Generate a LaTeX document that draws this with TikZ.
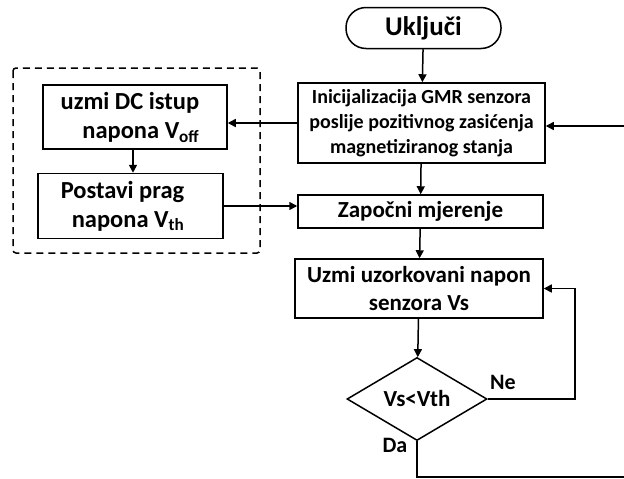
\documentclass[tikz,border=0pt]{standalone}
\usepackage{fontspec}
\setmainfont{Carlito}
\usetikzlibrary{arrows.meta,shapes.geometric}
\begin{document}
\begin{tikzpicture}[x=1pt,y=-1pt,
  line width=1.5pt,
  >={Triangle[length=8pt,width=8pt]},
  big/.style={font=\fontsize{23}{27.5}\selectfont\bfseries},
  box/.style={draw,rectangle,inner sep=0pt,align=center,big},
  txt/.style={inner sep=0pt,align=right,font=\fontsize{24.5}{29}\selectfont\bfseries},
  lbl/.style={font=\fontsize{22}{26}\selectfont\bfseries}]
\useasboundingbox (0,0) rectangle (624,479);
\node[box,rounded corners=20pt,minimum width=155pt,minimum height=41pt,font=\fontsize{27}{30}\selectfont\bfseries] (start) at (423.5,28) {Uključi};
\node[box,minimum width=247pt,minimum height=80pt,font=\fontsize{20}{25}\selectfont\bfseries] (init) at (421.5,123) {Inicijalizacija GMR senzora\\poslije pozitivnog zasićenja\\magnetiziranog stanja};
\node[box,minimum width=245pt,minimum height=33pt] (zap) at (420.5,211.5) {Započni mjerenje};
\node[box,minimum width=248pt,minimum height=59pt] (uz) at (419,288.5) {Uzmi uzorkovani napon\\senzora Vs};
\node[box,shape=diamond,minimum width=140pt,minimum height=72pt] (dia) at (417,399) {Vs<Vth};
\node[box,minimum width=184pt,minimum height=64pt] (dc) at (135,117) {};
\node[txt,anchor=east] (dct) at (200,117.5) {uzmi DC istup\\napona V\textsubscript{off}};
\node[box,minimum width=185pt,minimum height=65pt] (prag) at (130.5,206) {};
\node[txt,anchor=east] (pragt) at (185,206) {Postavi prag\\napona V\textsubscript{th}};
\draw[dashed,dash pattern=on 7pt off 5pt,rounded corners=3pt] (13,68) rectangle (260,253);
\node[lbl] (ne) at (503,382) {Ne};
\node[lbl] (da) at (395,445) {Da};
\coordinate (r1) at (624,126);
\coordinate (r2) at (624,477);
\coordinate (c1) at (575,399);
\draw[->] (start) -- (init);
\draw[->] (r1) -- (r1 -| init.east);
\draw[->] (init.west) -- (init.west -| dc.east);
\draw[->] (dc.south -| 133,0) -- (prag.north -| 133,0);
\draw[->] (prag.east) -- (prag.east -| zap.west);
\draw[->] (init) -- (zap);
\draw[->] (zap) -- (uz);
\draw[->] (uz) -- (dia);
\draw[->] (dia.east) -- (c1) |- (uz.east);
\draw (dia.south) |- (r2);
\end{tikzpicture}
\end{document}
